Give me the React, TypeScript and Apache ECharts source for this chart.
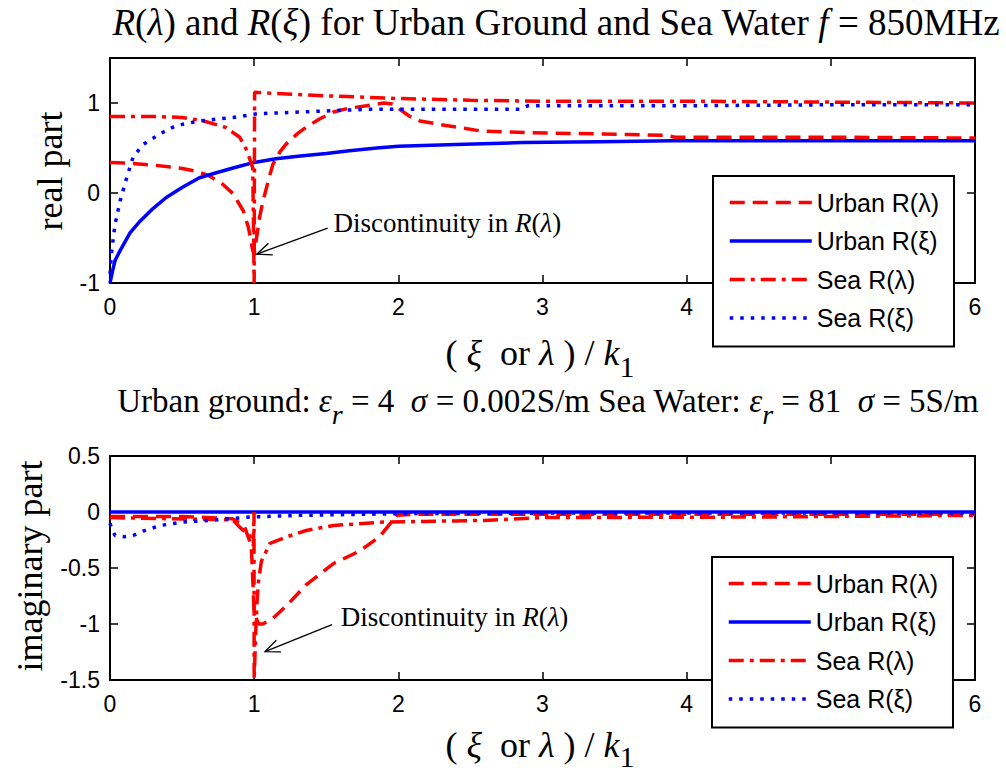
import React, { useEffect, useRef } from "react";
import * as echarts from "echarts";

const SANS = "'Liberation Sans', Arial, sans-serif";
const SERIF = "'Liberation Serif', 'Times New Roman', serif";

const seriesNames = ["Urban R(λ)", "Urban R(ξ)", "Sea R(λ)", "Sea R(ξ)"];
// x tick labels hidden behind the legend in the reference
const hiddenXTicks = [5];

// ---- real part (top) ----
const urbanLambdaRe: [number, number][] = [
  [0, 0.34], [0.15, 0.33], [0.3, 0.31], [0.42, 0.29], [0.51, 0.27], [0.6, 0.24], [0.69, 0.19],
  [0.78, 0.1], [0.855, -0.01], [0.925, -0.2], [0.96, -0.38], [0.99, -0.64], [1.0, -0.68],
  [1.02, -0.46], [1.04, -0.25], [1.06, -0.1], [1.1, 0.15], [1.13, 0.32], [1.18, 0.46],
  [1.22, 0.54], [1.3, 0.66], [1.36, 0.73], [1.45, 0.82], [1.55, 0.9], [1.65, 0.94],
  [1.78, 0.97], [1.9, 1.0], [1.96, 0.99], [2.01, 0.93], [2.08, 0.85], [2.15, 0.8],
  [2.33, 0.75], [2.57, 0.69], [2.9, 0.67], [3.26, 0.66], [3.6, 0.65], [3.86, 0.64],
  [3.92, 0.62], [4.5, 0.62], [5.0, 0.62], [6.0, 0.61],
];
const urbanXiRe: [number, number][] = [
  [0, -1.0], [0.02, -0.85], [0.035, -0.75], [0.07, -0.64], [0.14, -0.44], [0.21, -0.31],
  [0.3, -0.17], [0.39, -0.05], [0.5, 0.06], [0.62, 0.17], [0.75, 0.23], [0.86, 0.28],
  [1.0, 0.34], [1.15, 0.38], [1.32, 0.41], [1.5, 0.44], [1.66, 0.47], [1.85, 0.5],
  [2.0, 0.52], [2.4, 0.54], [2.86, 0.56], [3.4, 0.57], [3.9, 0.58], [4.5, 0.58],
  [5.0, 0.58], [6.0, 0.58],
];
const seaLambdaRe: [number, number][] = [
  [0, 0.85], [0.3, 0.85], [0.5, 0.84], [0.65, 0.8], [0.8, 0.73], [0.9, 0.62], [0.95, 0.47],
  [0.99, 0.28], [1.0, -1.0], [1.003, 1.12], [1.1, 1.11], [1.5, 1.08], [2.0, 1.05],
  [2.5, 1.03], [3.0, 1.02], [4.0, 1.02], [5.0, 1.01], [6.0, 1.0],
];
const seaXiRe: [number, number][] = [
  [0, -0.9], [0.012, -0.64], [0.035, -0.35], [0.07, -0.09], [0.116, 0.17], [0.16, 0.4],
  [0.23, 0.54], [0.35, 0.66], [0.46, 0.75], [0.62, 0.8], [0.855, 0.84], [1.02, 0.88],
  [1.32, 0.9], [1.78, 0.93], [2.2, 0.93], [2.84, 0.93], [2.9, 0.97], [4.0, 0.97],
  [5.0, 0.98], [6.0, 0.98],
];

// ---- imaginary part (bottom) ----
const urbanLambdaIm: [number, number][] = [
  [0, -0.04], [0.5, -0.04], [0.85, -0.06], [0.93, -0.12], [0.98, -0.3], [1.0, -0.9],
  [1.03, -1.0], [1.06, -1.0], [1.13, -0.95], [1.23, -0.83], [1.36, -0.65], [1.55, -0.46],
  [1.73, -0.35], [1.87, -0.22], [1.99, -0.03], [2.1, -0.02], [3.0, -0.02], [4.0, -0.02],
  [5.0, -0.02], [6.0, -0.02],
];
const urbanXiIm: [number, number][] = [
  [0, 0], [1, 0], [2, 0], [3, 0], [4, 0], [5, 0], [6, 0],
];
const seaLambdaIm: [number, number][] = [
  [0, -0.05], [0.4, -0.06], [0.85, -0.07], [0.92, -0.16], [0.97, -0.21], [0.995, -0.3],
  [0.999, 0], [1.0, -1.5], [1.01, -1.1], [1.02, -0.8], [1.03, -0.62], [1.05, -0.44],
  [1.11, -0.28], [1.23, -0.22], [1.36, -0.165], [1.55, -0.12], [1.9, -0.09], [2.6, -0.075],
  [3.0, -0.05], [4.5, -0.045], [6.0, -0.03],
];
const seaXiIm: [number, number][] = [
  [0, -0.1], [0.012, -0.15], [0.035, -0.21], [0.1, -0.22], [0.16, -0.21], [0.23, -0.17],
  [0.35, -0.12], [0.51, -0.09], [0.74, -0.07], [0.97, -0.045], [1.32, -0.03], [2.0, -0.015],
  [3.0, -0.01], [4.0, -0.01], [5.0, -0.01], [6.0, -0.01],
];

// annotation anchor points in data units
const annotTop = { text: [1.55, -0.33], tail: [1.51, -0.39], tip: [1.018, -0.68] };
const annotBottom = { text: [1.6, -0.94], tail: [1.54, -1.005], tip: [1.075, -1.246] };

const RED = "#ff0000";
const BLUE = "#0000ff";
const LW = 3.5;
const DASH = [15, 8];
const DASHDOT = [15, 6, 4, 6];
const DOT = [3.5, 7];

function mkSeries(name: string, data: [number, number][], color: string, type: any, idx: number) {
  return {
    name,
    type: "line",
    data,
    xAxisIndex: idx,
    yAxisIndex: idx,
    symbol: "none",
    showSymbol: false,
    lineStyle: { color, width: LW, type, cap: "butt" },
    itemStyle: { color },
    clip: true,
  };
}

function axisCommon() {
  return {
    type: "value",
    axisLine: { show: true, onZero: false, lineStyle: { color: "#000", width: 2 } },
    axisTick: { show: true, inside: true, length: 8, lineStyle: { color: "#000", width: 1.5 } },
    splitLine: { show: false },
  };
}
const labelStyle = { color: "#000", fontFamily: SANS, fontSize: 23 };
const xFmt = (v: number) => (hiddenXTicks.indexOf(v) >= 0 ? "" : String(v));

function legendFor(top: number, left: number) {
  return {
    orient: "vertical",
    left,
    top,
    data: seriesNames,
    itemWidth: 82,
    itemHeight: 20,
    itemGap: 13.5,
    padding: [14, 15, 16, 15],
    backgroundColor: "#fff",
    borderColor: "#000",
    borderWidth: 2,
    borderRadius: 0,
    selectedMode: false,
    textStyle: { color: "#000", fontFamily: SANS, fontSize: 25 },
    itemStyle: { opacity: 0 },
    lineStyle: { width: LW },
    z: 10,
  };
}

export default function App() {
  const ref = useRef<HTMLDivElement>(null);
  useEffect(() => {
    if (!ref.current) return;
    const chart = echarts.init(ref.current, undefined, { renderer: "svg" });
    const option: any = {
      animation: false,
      backgroundColor: "#fff",
      grid: [
        { left: 110, top: 58, width: 865, height: 225 },
        { left: 110, top: 456, width: 865, height: 224 },
      ],
      xAxis: [
        { ...axisCommon(), gridIndex: 0, position: "bottom", min: 0, max: 6, interval: 1,
          axisLabel: { ...labelStyle, margin: 12, formatter: xFmt } },
        { ...axisCommon(), gridIndex: 0, position: "top", min: 0, max: 6, interval: 1,
          axisLabel: { show: false } },
        { ...axisCommon(), gridIndex: 1, position: "bottom", min: 0, max: 6, interval: 1,
          axisLabel: { ...labelStyle, margin: 12, formatter: xFmt } },
        { ...axisCommon(), gridIndex: 1, position: "top", min: 0, max: 6, interval: 1,
          axisLabel: { show: false } },
      ],
      yAxis: [
        { ...axisCommon(), gridIndex: 0, position: "left", min: -1, max: 1.5, interval: 1,
          axisLabel: { ...labelStyle, margin: 10, showMaxLabel: false,
            formatter: (v: number) => (v === 1.5 ? "" : String(v)) } },
        { ...axisCommon(), gridIndex: 0, position: "right", min: -1, max: 1.5, interval: 1,
          axisLabel: { show: false } },
        { ...axisCommon(), gridIndex: 1, position: "left", min: -1.5, max: 0.5, interval: 0.5,
          axisLabel: { ...labelStyle, margin: 10, formatter: (v: number) => String(v) } },
        { ...axisCommon(), gridIndex: 1, position: "right", min: -1.5, max: 0.5, interval: 0.5,
          axisLabel: { show: false } },
      ],
      legend: [legendFor(176, 713), legendFor(557, 712)],
      series: [
        mkSeries(seriesNames[0], urbanLambdaRe, RED, DASH, 0),
        mkSeries(seriesNames[1], urbanXiRe, BLUE, "solid", 0),
        mkSeries(seriesNames[2], seaLambdaRe, RED, DASHDOT, 0),
        mkSeries(seriesNames[3], seaXiRe, BLUE, DOT, 0),
        mkSeries(seriesNames[0], urbanLambdaIm, RED, DASH, 2),
        mkSeries(seriesNames[1], urbanXiIm, BLUE, "solid", 2),
        mkSeries(seriesNames[2], seaLambdaIm, RED, DASHDOT, 2),
        mkSeries(seriesNames[3], seaXiIm, BLUE, DOT, 2),
      ],
    };
    chart.setOption(option);

    const arrow = (tail: number[], tip: number[]) => {
      const ang = Math.atan2(tip[1] - tail[1], tip[0] - tail[0]);
      const L = 16;
      const a1 = ang + Math.PI - 0.4;
      const a2 = ang + Math.PI + 0.4;
      return [
        { type: "line", shape: { x1: tail[0], y1: tail[1], x2: tip[0], y2: tip[1] },
          style: { stroke: "#000", lineWidth: 1.3 }, z: 20 },
        { type: "polyline",
          shape: { points: [
            [tip[0] + L * Math.cos(a1), tip[1] + L * Math.sin(a1)],
            [tip[0], tip[1]],
            [tip[0] + L * Math.cos(a2), tip[1] + L * Math.sin(a2)],
          ] },
          style: { stroke: "#000", lineWidth: 1.3, fill: "none" }, z: 20 },
      ];
    };
    const annot = (a: any, gi: number) => {
      const t = chart.convertToPixel({ gridIndex: gi } as any, a.text) as number[];
      const tl = chart.convertToPixel({ gridIndex: gi } as any, a.tail) as number[];
      const tp = chart.convertToPixel({ gridIndex: gi } as any, a.tip) as number[];
      return [
        { type: "text", x: t[0], y: t[1], z: 20,
          style: { text: "Discontinuity in {i|R}({i|λ})", fontFamily: SERIF, fontSize: 27, fill: "#000",
            align: "left", verticalAlign: "middle",
            rich: { i: { fontFamily: SERIF, fontSize: 27, fontStyle: "italic", fill: "#000" } } } },
        ...arrow(tl, tp),
      ];
    };

    const serifRich = (size: number, subSize: number, subPad: number) => ({
      i: { fontFamily: SERIF, fontSize: size, fontStyle: "italic", fill: "#000" },
      sub: { fontFamily: SERIF, fontSize: subSize, fill: "#000", padding: [subPad, 0, 0, 0] },
      isub: { fontFamily: SERIF, fontSize: subSize, fontStyle: "italic", fill: "#000", padding: [subPad, 0, 0, 0] },
    });

    const graphic: any[] = [
      { type: "text", x: 556, y: 22, z: 20,
        style: { text: "{i|R}({i|λ}) and {i|R}({i|ξ}) for Urban Ground and Sea Water {i|f} = 850MHz",
          fontFamily: SERIF, fontSize: 37, fill: "#000", align: "center", verticalAlign: "middle",
          rich: serifRich(37, 30, 20) } },
      { type: "text", x: 50, y: 171, rotation: Math.PI / 2, z: 20,
        style: { text: "real part", fontFamily: SERIF, fontSize: 36, fill: "#000",
          align: "center", verticalAlign: "middle" } },
      { type: "text", x: 30, y: 566, rotation: Math.PI / 2, z: 20,
        style: { text: "imaginary part", fontFamily: SERIF, fontSize: 36, fill: "#000",
          align: "center", verticalAlign: "middle" } },
      { type: "text", x: 540, y: 353, z: 20,
        style: { text: "( {i|ξ}  or {i|λ} ) / {i|k}{sub|1}", fontFamily: SERIF, fontSize: 36, fill: "#000",
          align: "center", verticalAlign: "middle", rich: serifRich(36, 30, 26) } },
      { type: "text", x: 548, y: 401, z: 20,
        style: { text: "Urban ground: {i|ε}{isub|r} = 4  {i|σ} = 0.002S/m Sea Water: {i|ε}{isub|r} = 81  {i|σ} = 5S/m",
          fontFamily: SERIF, fontSize: 33, fill: "#000", align: "center", verticalAlign: "middle",
          rich: serifRich(33, 28, 26) } },
      { type: "text", x: 540, y: 745, z: 20,
        style: { text: "( {i|ξ}  or {i|λ} ) / {i|k}{sub|1}", fontFamily: SERIF, fontSize: 36, fill: "#000",
          align: "center", verticalAlign: "middle", rich: serifRich(36, 30, 22) } },
      ...annot(annotTop, 0),
      ...annot(annotBottom, 1),
    ];
    chart.setOption({ graphic });

    return () => chart.dispose();
  }, []);
  return (
    <div
      ref={ref}
      style={{ position: "fixed", left: 0, top: 0, width: 1006, height: 774, background: "#fff" }}
    />
  );
}
